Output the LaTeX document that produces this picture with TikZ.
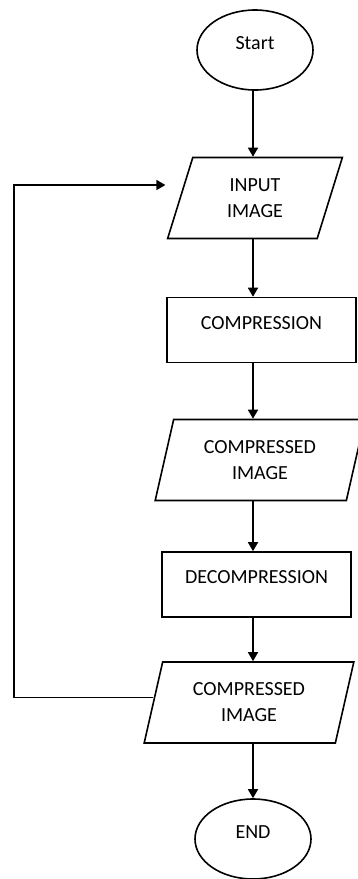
\documentclass[tikz,border=0pt]{standalone}
\usepackage{fontspec}
\setmainfont{Carlito}
\usepackage{tikz}
\usetikzlibrary{shapes.geometric, arrows.meta}

\begin{document}
\begin{tikzpicture}[x=1pt, y=-1pt,
    every node/.style={font=\fontsize{20}{26}\selectfont},
    terminal/.style={draw, line width=1.6pt, ellipse, minimum width=116pt, minimum height=80pt, inner sep=0pt, text height=8pt, text depth=10pt},
    iobox/.style={draw, line width=1.6pt, trapezium, trapezium left angle=74.5, trapezium right angle=105.5, trapezium stretches=true, minimum width=176pt, minimum height=81pt, align=center},
    procbox/.style={draw, line width=1.6pt, rectangle, minimum width=189pt, minimum height=65pt, text height=8pt, text depth=10pt},
    flow/.style={-{Triangle[length=9pt, width=10pt]}, line width=1.6pt}]
    \useasboundingbox (0, 0) rectangle (358, 879);

    \node[terminal] at (255, 50) (start) {Start};
    \node[iobox] at (255, 198) (inp) {INPUT\\IMAGE};
    \node[procbox] at (261.5, 330) (comp) {COMPRESSION};
    \node[iobox, minimum width=210pt] at (260, 460) (ci1) {COMPRESSED\\IMAGE};
    \node[procbox] at (256.5, 584.5) (decomp) {DECOMPRESSION};
    \node[iobox, minimum width=210pt] at (249, 702.5) (ci2) {COMPRESSED\\IMAGE};
    \node[terminal] at (253, 839) (end) {END};
    \coordinate (axis) at (253, 0);
    \coordinate (back) at (14, 0);

    \draw[flow] (start.south -| axis) -- (inp.north -| axis);
    \draw[flow] (inp.south -| axis) -- (comp.north -| axis);
    \draw[flow] (comp.south -| axis) -- (ci1.north -| axis);
    \draw[flow] (ci1.south -| axis) -- (decomp.north -| axis);
    \draw[flow] (decomp.south -| axis) -- (ci2.north -| axis);
    \draw[flow] (ci2.south -| axis) -- (end.north -| axis);

    % loop back to the input
    \draw[flow, shorten >=14pt] ([yshift=5pt]ci2.west) -- ([yshift=5pt]ci2.west -| back) |- ([yshift=13pt]inp.west);
\end{tikzpicture}
\end{document}
